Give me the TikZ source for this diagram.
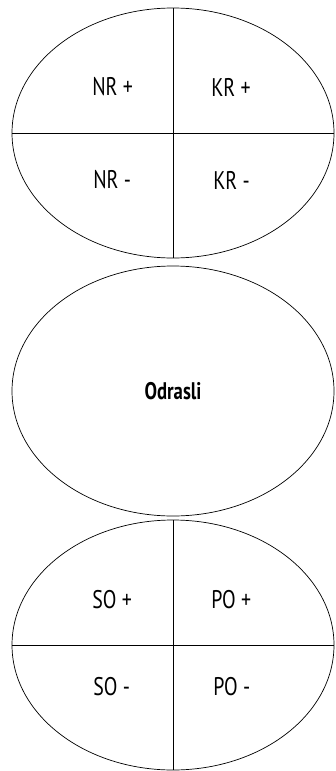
\documentclass[tikz,border=0pt]{standalone}
\usepackage{fontspec}
\setmainfont{PT Sans}[FakeStretch=0.78]
\usetikzlibrary{shapes.geometric}

\begin{document}
\begin{tikzpicture}[x=1pt, y=1pt, line width=0.7pt,
		oval/.style={draw, ellipse, minimum width=322pt, minimum height=250pt, inner sep=0pt, outer sep=0pt},
		lbl/.style={anchor=west, font=\fontsize{25.5}{28}\selectfont, inner sep=0pt}]
	\useasboundingbox (0,0) rectangle (335,-771);
	
	% oben: NR / KR
	\node[oval] (top) at (173,-133) {};
	\draw (top.north) -- (top.south);
	\draw (top.west) -- (top.east);
	\node[lbl] (nrp) at (92,-87) {NR +};
	\node[lbl] (krp) at (211,-87) {KR +};
	\node[lbl] (nrm) at (93,-180) {NR -};
	\node[lbl] (krm) at (213,-180) {KR -};
	
	% Mitte
	\node[oval, font=\fontsize{24}{28}\selectfont\bfseries] (mid) at (173,-391) {Odrasli};
	
	% unten: SO / PO
	\node[oval] (bot) at (173,-645) {};
	\draw (bot.north) -- (bot.south);
	\draw (bot.west) -- (bot.east);
	\node[lbl] (sop) at (92,-600) {SO +};
	\node[lbl] (pop) at (211,-600) {PO +};
	\node[lbl] (som) at (93,-687) {SO -};
	\node[lbl] (pom) at (213,-687) {PO -};
\end{tikzpicture}
\end{document}
